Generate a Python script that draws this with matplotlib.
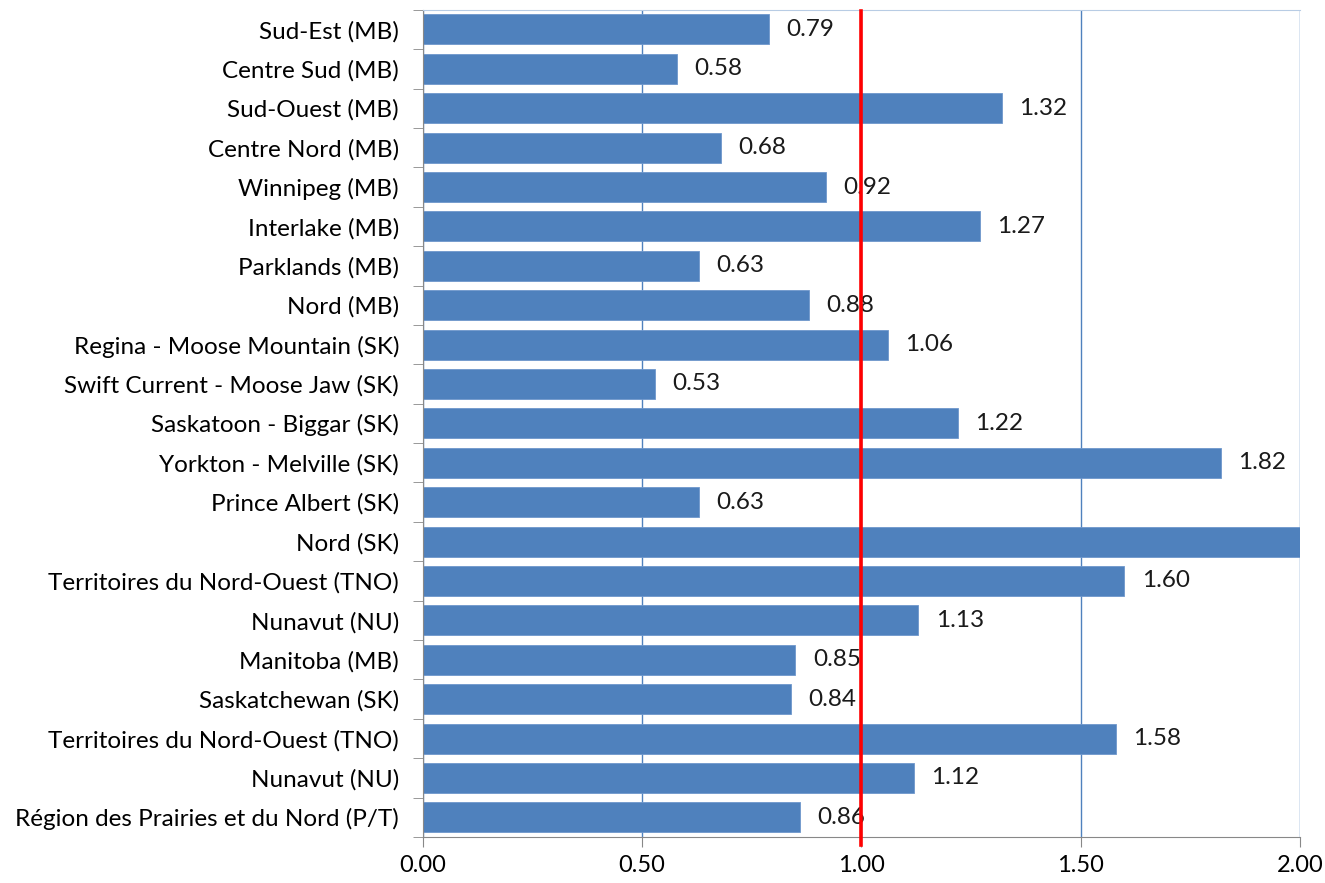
import matplotlib.pyplot as plt
import numpy as np

regions = [
    "Sud-Est (MB)", "Centre Sud (MB)", "Sud-Ouest (MB)", "Centre Nord (MB)",
    "Winnipeg (MB)", "Interlake (MB)", "Parklands (MB)", "Nord (MB)",
    "Regina - Moose Mountain (SK)", "Swift Current - Moose Jaw (SK)",
    "Saskatoon - Biggar (SK)", "Yorkton - Melville (SK)", "Prince Albert (SK)",
    "Nord (SK)", "Territoires du Nord-Ouest (TNO)", "Nunavut (NU)",
    "Manitoba (MB)", "Saskatchewan (SK)", "Territoires du Nord-Ouest (TNO)",
    "Nunavut (NU)", "Région des Prairies et du Nord (P/T)",
]
ratios = [0.79, 0.58, 1.32, 0.68, 0.92, 1.27, 0.63, 0.88, 1.06, 0.53,
          1.22, 1.82, 0.63, 2.40, 1.60, 1.13, 0.85, 0.84, 1.58, 1.12, 0.86]
x_ticks = [0.0, 0.5, 1.0, 1.5, 2.0]
reference = 1.0

plt.rcParams["font.family"] = ["Lato", "DejaVu Sans"]

fig = plt.figure(figsize=(13.25, 8.83), dpi=100)
ax = fig.add_axes([0.319, 0.052, 0.662, 0.937])

bar_color = "#4F81BD"
y = np.arange(len(regions))
ax.barh(y, ratios, height=0.76, color=bar_color, edgecolor="#6E97CC",
        linewidth=0.6, zorder=2)

ax.set_xlim(0, 2.0)
ax.set_ylim(len(regions) - 0.5, -0.5)

for yi, v in zip(y, ratios):
    if v < 2.0:
        ax.text(v + 0.04, yi, f"{v:.2f}", va="center", ha="left",
                fontsize=17.5, color="#1a1a1a", zorder=3)

ax.set_xticks(x_ticks)
ax.set_xticklabels([f"{t:.2f}" for t in x_ticks], fontsize=17)
ax.xaxis.grid(True, color="#4F81BD", linewidth=1.0, zorder=0)
ax.set_axisbelow(True)

# category labels, ticks sit between bars like Excel
ax.set_yticks(y)
ax.set_yticklabels(regions, fontsize=17.5)
ax.tick_params(axis="y", length=0, pad=17)
ax.set_yticks(np.arange(-0.5, len(regions)), minor=True)
ax.tick_params(axis="y", which="minor", length=7, color="#888888")
ax.tick_params(axis="x", length=7, color="#888888", pad=6)

for s in ["left", "bottom"]:
    ax.spines[s].set_color("#888888")
ax.spines["top"].set_color("#B8CCE4")
ax.spines["right"].set_visible(False)

ax.axvline(reference, ymin=-0.01, ymax=0.998, color="#FF0000",
           linewidth=2.6, zorder=4, clip_on=False)

fig.savefig("out.png", dpi=100)
